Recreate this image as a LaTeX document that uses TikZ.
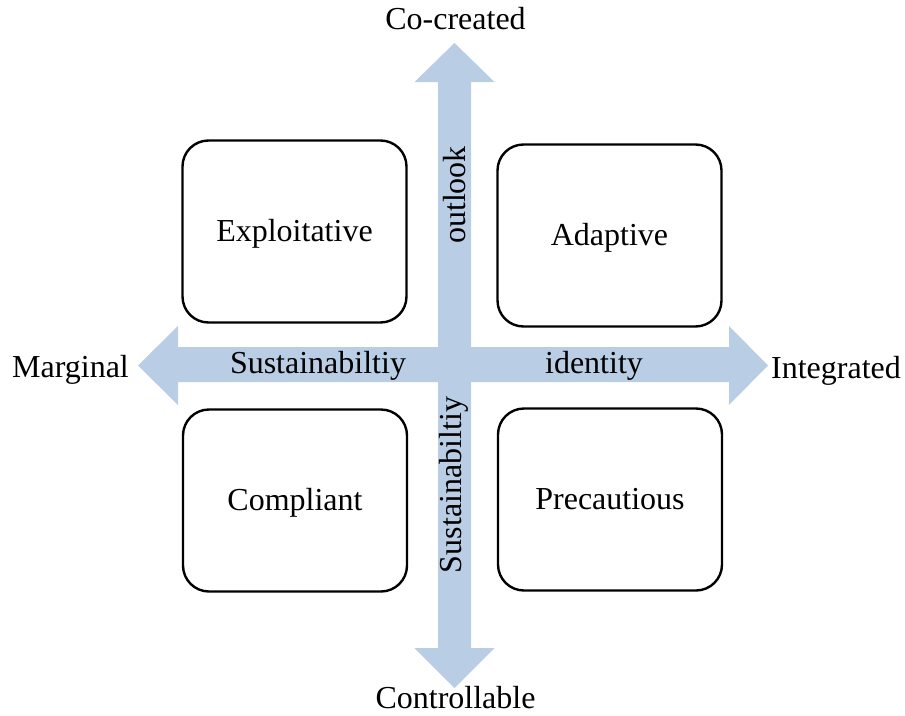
\documentclass[tikz,border=0pt]{standalone}
\usepackage{fontspec}
\setmainfont{Liberation Serif}
\definecolor{arrowblue}{HTML}{B9CDE5}
\begin{document}
\begin{tikzpicture}[x=1pt,y=-1pt,
  quad/.style={draw=black,line width=2.4pt,rounded corners=26pt,fill=white,
    minimum width=224pt,minimum height=182pt,inner sep=0pt,
    text height=22pt,text depth=3pt,
    font=\fontsize{32}{38}\selectfont},
  lbl/.style={inner sep=0pt,font=\fontsize{32}{38}\selectfont},
  axis/.style={fill=arrowblue,draw=none}]
\useasboundingbox (0,0) rectangle (905,715);
% vertical double arrow
\fill[axis] (454.5,43) -- (494.5,82) -- (471,82) -- (471,648) -- (494.5,648)
  -- (454.5,688) -- (414.5,648) -- (438,648) -- (438,82) -- (414.5,82) -- cycle;
% horizontal double arrow
\fill[axis] (138,365.5) -- (178,326) -- (178,347) -- (729,347) -- (729,326)
  -- (768,365.5) -- (729,405) -- (729,382) -- (178,382) -- (178,405) -- cycle;
% quadrant boxes
\node[quad] (expl) at (294.5,231.5) {Exploitative};
\node[quad] (adap) at (609.5,235.5) {Adaptive};
\node[quad] (comp) at (295,500.5) {Compliant};
\node[quad] (prec) at (610,499.5) {Precautious};
% axis texts
\node[lbl,rotate=90] (outl) at (455,195) {outlook};
\node[lbl,rotate=90] (susv) at (454,485) {Sustainabiltiy};
\node[lbl,anchor=base] (sush) at (318,373) {Sustainabiltiy};
\node[lbl,anchor=base] (iden) at (594,373) {identity};
% pole labels
\node[lbl,anchor=base] (cocr) at (455.5,29) {Co-created};
\node[lbl,anchor=base] (ctrl) at (455.5,708) {Controllable};
\node[lbl,anchor=base] (marg) at (70.5,377) {Marginal};
\node[lbl,anchor=base] (intg) at (836,378) {Integrated};
\end{tikzpicture}
\end{document}
